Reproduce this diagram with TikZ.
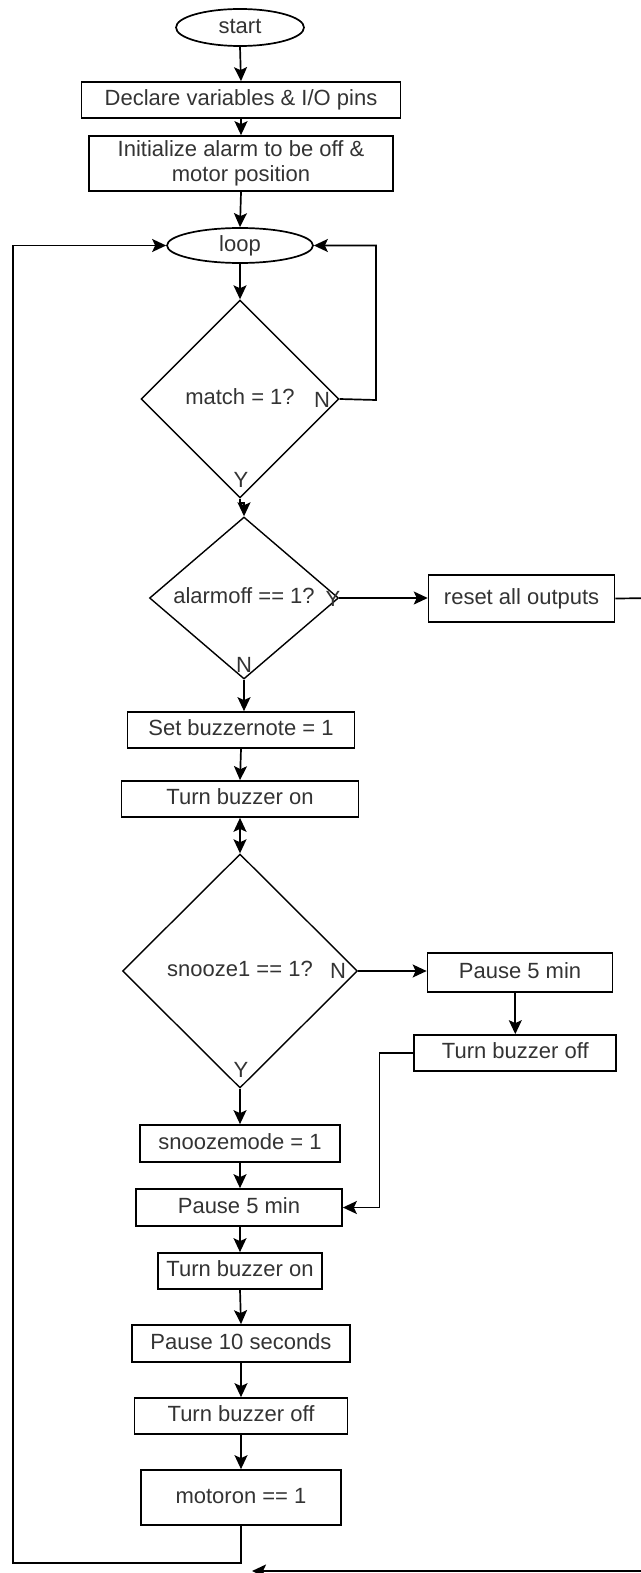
\documentclass[tikz,border=0pt]{standalone}
\usepackage{fontspec}
\setmainfont{Liberation Sans}
\usetikzlibrary{arrows.meta}
\usetikzlibrary{shapes.geometric}
\definecolor{inkgray}{rgb}{0.2,0.2,0.2}
\tikzset{
  >={Stealth[length=14pt,width=13pt,inset=3pt]},
  flowtext/.style={font=\fontsize{22}{25}\selectfont,text=inkgray},
  basebox/.style={draw=black,line width=1.7pt,inner sep=0pt,flowtext},
  procbox/.style={basebox,rectangle,text height=15.8pt,text depth=4.6pt},
  termbox/.style={basebox,ellipse,text height=15.8pt,text depth=4.6pt},
  decbox/.style={basebox,diamond,line width=1.4pt,text height=15.8pt,text depth=4.6pt},
  brlabel/.style={inner sep=0pt,flowtext},
  wire/.style={draw=black,line width=1.7pt},
  wirep/.style={draw=black,line width=1.7pt,->},
  wirepp/.style={draw=black,line width=1.7pt,<->}
}
\begin{document}
\begin{tikzpicture}[x=1pt,y=-1pt]
  \useasboundingbox (0,0) rectangle (640,1573);
  % main column
  \node[termbox,minimum width=128pt,minimum height=37pt] (start) at (240,27.5) {start};
  \node[procbox,minimum width=319pt,minimum height=36pt] (decl) at (241,100) {Declare variables \& I/O pins};
  \node[basebox,rectangle,align=center,minimum width=304pt,minimum height=55pt] (init) at (241,163.5) {Initialize alarm to be off \&\\motor position};
  \node[termbox,minimum width=146pt,minimum height=35pt] (loop) at (240,245.5) {loop};
  \node[decbox,minimum width=198pt,minimum height=198pt] (match) at (240,399) {match = 1?};
  \node[decbox,shape aspect=1.2,minimum width=189pt,minimum height=162pt] (alarm) at (244,598) {alarmoff == 1?};
  \node[procbox,minimum width=227pt,minimum height=36pt] (buzz) at (241,730) {Set buzzernote = 1};
  \node[procbox,minimum width=237pt,minimum height=36pt] (buzzOn) at (240,799) {Turn buzzer on};
  \node[decbox,minimum width=235pt,minimum height=234pt] (snooze) at (240,971) {snooze1 == 1?};
  \node[procbox,minimum width=200pt,minimum height=37pt] (snzMode) at (240,1143.5) {snoozemode = 1};
  \node[procbox,minimum width=206pt,minimum height=37pt] (pauseY) at (239,1207.5) {Pause 5 min};
  \node[procbox,minimum width=164pt,minimum height=36pt] (buzzOn2) at (240,1271) {Turn buzzer on};
  \node[procbox,minimum width=218pt,minimum height=37pt] (pause10) at (241,1343.5) {Pause 10 seconds};
  \node[procbox,minimum width=213pt,minimum height=36pt] (buzzOff2) at (241,1416) {Turn buzzer off};
  \node[procbox,minimum width=200pt,minimum height=55pt] (motor) at (241,1497.5) {motoron == 1};
  % right column
  \node[procbox,minimum width=186pt,minimum height=47pt] (reset) at (521.6,598.5) {reset all outputs};
  \node[procbox,minimum width=185pt,minimum height=39pt] (pauseN) at (520,972.5) {Pause 5 min};
  \node[procbox,minimum width=202pt,minimum height=36pt] (buzzOffN) at (515.3,1053) {Turn buzzer off};
  % branch labels
  \node[brlabel] (matchN) at (322,400) {N};
  \node[brlabel] (matchY) at (241,480) {Y};
  \node[brlabel] (alarmY) at (333,599) {Y};
  \node[brlabel] (alarmN) at (244,665) {N};
  \node[brlabel] (snoozeN) at (338,971) {N};
  \node[brlabel] (snoozeY) at (241,1070) {Y};
  % bend points
  \coordinate (backR) at (376,400);
  \coordinate (backL) at (13,1563);
  \coordinate (offR) at (660,598);
  \coordinate (offB) at (252,1571);
  % connectors
  \draw (start.south) -- (decl.north) [wirep];
  \draw (decl.south) -- (init.north) [wirep];
  \draw (init.south) -- (loop.north) [wirep];
  \draw (loop.south) -- (match.north) [wirep];
  \draw (match.east) -- (backR) |- (loop.east) [wirep];
  \draw (match.south) -- ++(0,4) -| (alarm.north) [wirep];
  \draw (alarm.east) -- (alarm.east -| reset.west) [wirep];
  \draw (reset.east) -- (offR) |- (offB) [wirep];
  \draw (alarm.south) -- (alarm.south |- buzz.north) [wirep];
  \draw (buzz.south) -- (buzzOn.north) [wirep];
  \draw (buzzOn.south) -- (snooze.north) [wirepp];
  \draw (snooze.east) -- (snooze.east -| pauseN.west) [wirep];
  \draw (pauseN.south -| buzzOffN.north) -- (buzzOffN.north) [wirep];
  \draw (buzzOffN.west) -- ++(-34,0) |- (pauseY.east) [wirep];
  \draw (snooze.south) -- (snzMode.north) [wirep];
  \draw (snzMode.south) -- (snzMode.south |- pauseY.north) [wirep];
  \draw (pauseY.south -| buzzOn2.north) -- (buzzOn2.north) [wirep];
  \draw (buzzOn2.south) -- (pause10.north) [wirep];
  \draw (pause10.south) -- (buzzOff2.north) [wirep];
  \draw (buzzOff2.south) -- (motor.north) [wirep];
  \draw (motor.south) |- (backL) |- (loop.west) [wirep];
\end{tikzpicture}
\end{document}
